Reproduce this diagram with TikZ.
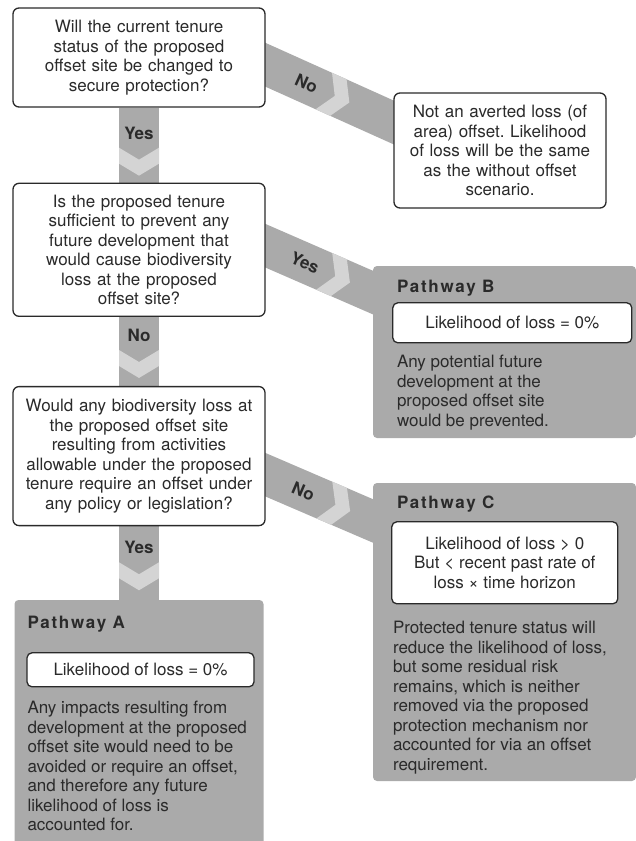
\documentclass[tikz,border=0pt]{standalone}
\usepackage{fontspec}
\setmainfont{TeX Gyre Heros}
\frenchspacing
\usetikzlibrary{positioning,calc,backgrounds,decorations.markings}
\definecolor{bandgray}{HTML}{AAAAAA}
\definecolor{chevgray}{HTML}{D4D4D4}
\definecolor{inkgray}{HTML}{2A2A2A}
\tikzset{every node/.style={font=\fontsize{17}{19.5}\selectfont, text=inkgray},
	 qbox/.style={draw=inkgray, line width=1.3pt, fill=white, rounded corners=6pt,
	   text width=240pt, minimum width=252pt, align=center, inner sep=0pt},
	 pbox/.style={fill=bandgray, rounded corners=4pt, inner sep=0pt},
	 lbox/.style={draw=inkgray, line width=1.3pt, fill=white, rounded corners=5pt,
	   align=center, inner sep=0pt},
	 ptitle/.style={anchor=base west, inner sep=0pt,
	   font=\fontsize{17}{19.5}\selectfont\bfseries\addfontfeature{LetterSpace=10}},
	 ptext/.style={anchor=north west, align=left, inner sep=0pt},
	 band/.style={draw=bandgray, line width=40pt},
	 blabel/.style={inner sep=0pt, font=\fontsize{17}{19.5}\selectfont\bfseries},
	 bandmarks/.style n args={5}{postaction={decorate, decoration={markings,
	   mark=at position #1 with {\node[blabel,#5] (#2) {#3};},
	   mark=at position #4 with {\fill[chevgray] (0,-20) -- (12,0) -- (0,20)
	     -- (16,20) -- (28,0) -- (16,-20) -- cycle;}}}}
	 }

\begin{document}
\begin{tikzpicture}[x=1pt,y=-1pt]
	\useasboundingbox (0,0) rectangle (636,841);
	% questions
	\node[qbox, minimum height=99pt] (q1) at (139,57.5) {Will the current tenure\\status of the proposed\\offset site be changed to\\secure protection?};
	\node[qbox, minimum height=133pt, below=75pt of q1] (q2) {Is the proposed tenure\\sufficient to prevent any\\future development that\\would cause biodiversity\\loss at the proposed\\offset site?};
	\node[qbox, minimum height=139pt, below=69pt of q2] (q3) {Would any biodiversity loss at\\the proposed offset site\\resulting from activities\\allowable under the proposed\\tenure require an offset under\\any policy or legislation?};
	\node[qbox, text width=205pt, minimum width=212pt, minimum height=115pt] (nl) at (500,150.5) {Not an averted loss (of\\area) offset. Likelihood\\of loss will be the same\\as the without offset\\scenario.};
	% pathways
	\node[pbox, minimum width=249pt, minimum height=250pt] (pa) at (139,725) {};
	\node[pbox, minimum width=263pt, minimum height=172pt] (pb) at (504.5,352) {};
	\node[pbox, minimum width=263pt, minimum height=298pt] (pc) at (504.5,632) {};
	\node[ptitle] (ta) at ($(pa.north west)+(13,29)$) {Pathway A};
	\node[ptitle] (tb) at ($(pb.north west)+(24,27)$) {Pathway B};
	\node[ptitle] (tc) at ($(pc.north west)+(24,26)$) {Pathway C};
	\node[lbox, minimum width=227pt, minimum height=34pt] (la) at ($(pa.north)+(1.5,70)$) {Likelihood of loss = 0\%};
	\node[lbox, minimum width=239pt, minimum height=40pt] (lb) at ($(pb.north west)+(139.5,57)$) {Likelihood of loss = 0\%};
	\node[lbox, minimum width=226pt, minimum height=82pt] (lc) at ($(pc.north west)+(132,80)$) {Likelihood of loss > 0\\But < recent past rate of\\loss × time horizon};
	\node[ptext] (xa) at ($(pa.north west)+(13,101.5)$) {Any impacts resulting from\\development at the proposed\\offset site would need to be\\avoided or require an offset,\\and therefore any future\\likelihood of loss is\\accounted for.};
	\node[ptext] (xb) at ($(pb.north west)+(24,89.5)$) {Any potential future\\development at the\\proposed offset site\\would be prevented.};
	\node[ptext] (xc) at ($(pc.north west)+(20,138.5)$) {Protected tenure status will\\reduce the likelihood of loss,\\but some residual risk\\remains, which is neither\\removed via the proposed\\protection mechanism nor\\accounted for via an offset\\requirement.};
	% bands
	\begin{scope}[on background layer]
	\coordinate (b1a) at ($(q1.east)+(-23,-3)$); \coordinate (b1b) at ($(nl.west)+(36,-12)$);
	\coordinate (b2a) at ($(q2.east)+(-23,-14)$); \coordinate (b2b) at ($(pb.west)+(47,-39)$);
	\coordinate (b3a) at ($(q3.east)+(-23,8.8)$); \coordinate (b3b) at ($(pc.north west)+(47,58.3)$);
	\draw[band, bandmarks={26pt}{y1}{Yes}{40pt}{}] (q1.south) -- (q2.north);
	\draw[band, bandmarks={18pt}{n2}{No}{33pt}{}] (q2.south) -- (q3.north);
	\draw[band, bandmarks={21pt}{y3}{Yes}{36pt}{}] (q3.south) -- (pa.north);
	\draw[band, bandmarks={70pt}{n1}{No}{89pt}{transform shape}] (b1a) -- (b1b);
	\draw[band, bandmarks={68pt}{y2}{Yes}{89pt}{transform shape}] (b2a) -- (b2b);
	\draw[band, bandmarks={66pt}{n3}{No}{89pt}{transform shape}] (b3a) -- (b3b);
	\end{scope}
\end{tikzpicture}
\end{document}
